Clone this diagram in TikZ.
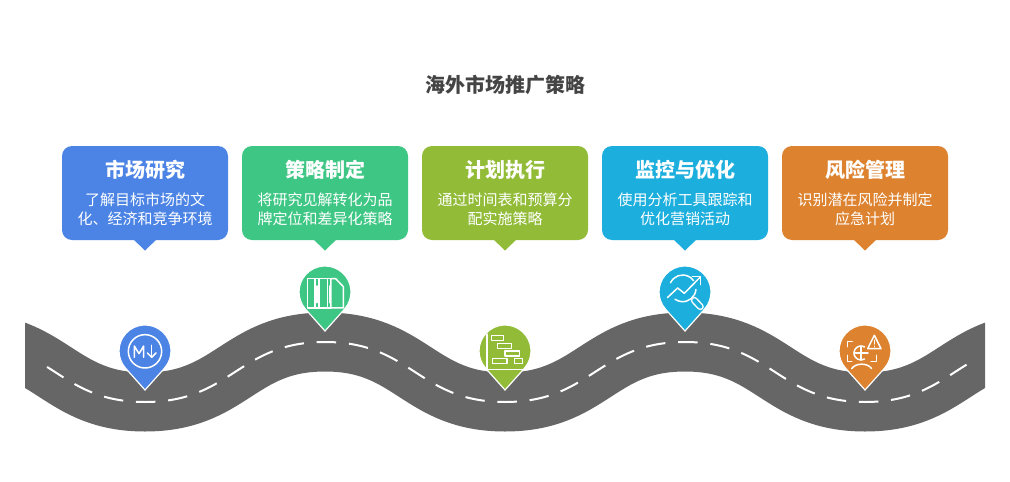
\documentclass[tikz,border=0pt]{standalone}
\usepackage{fontspec}
\setmainfont{Noto Sans CJK SC}
\definecolor{cblue}{HTML}{4C84E5}
\definecolor{cgreen}{HTML}{3EC684}
\definecolor{colive}{HTML}{92BC38}
\definecolor{ccyan}{HTML}{1CAEDD}
\definecolor{corange}{HTML}{DD8330}
\definecolor{croad}{HTML}{666666}
\definecolor{ctitle}{HTML}{444444}
\tikzset{
  card/.style={minimum width=166pt,minimum height=94pt,rounded corners=10pt,inner sep=0pt,outer sep=0pt},
  cardhead/.style={text=white,font=\fontsize{20}{24}\selectfont\bfseries,inner sep=0pt},
  cardbody/.style={text=white,font=\fontsize{15}{19}\selectfont,align=center,inner sep=0pt},
  pinfill/.style={draw=white,line width=1.2pt,line join=miter},
  iconline/.style={draw=white,line width=1.5pt,line cap=round,line join=round},
}
% card: name, centre x, colour, heading, body
\newcommand{\CardAt}[5]{%
  \fill[#3] (#2-13,238) -- (#2,250.5) -- (#2+13,238) -- cycle;
  \node[card,fill=#3] (#1) at (#2,193) {};
  \node[cardhead] (#1h) at (#2,169.5) {#4};
  \node[cardbody] (#1b) at (#2,209.5) {#5};
}
% pin: centre x, centre y, colour
\newcommand{\PinAt}[3]{%
  \path[pinfill,fill=#3] (#1,#2+39) -- (#1+19.4,#2+17.3) arc[start angle=41.8,end angle=-221.8,radius=26] -- cycle;
}
\begin{document}
\begin{tikzpicture}[x=1pt,y=-1pt]
\useasboundingbox (0,0) rectangle (1010,482);
\fill[white] (0,0) rectangle (1010,482);

\node[text=ctitle,font=\fontsize{20}{24}\selectfont\bfseries,inner sep=0pt] (title) at (505,85) {海外市场推广策略};

\CardAt{c1}{145}{cblue}{市场研究}{了解目标市场的文\\化、经济和竞争环境}
\CardAt{c2}{325}{cgreen}{策略制定}{将研究见解转化为品\\牌定位和差异化策略}
\CardAt{c3}{505}{colive}{计划执行}{通过时间表和预算分\\配实施策略}
\CardAt{c4}{685}{ccyan}{监控与优化}{使用分析工具跟踪和\\优化营销活动}
\CardAt{c5}{865}{corange}{风险管理}{识别潜在风险并制定\\应急计划}

% road
\begin{scope}
\clip (25,0) rectangle (985,482);
\draw[croad,line width=59pt,line cap=butt]
  (-35,342) .. controls (52,342) and (58,402) .. (145,402)
  .. controls (232,402) and (238,342) .. (325,342)
  .. controls (412,342) and (418,402) .. (505,402)
  .. controls (592,402) and (598,342) .. (685,342)
  .. controls (772,342) and (778,402) .. (865,402)
  .. controls (952,402) and (958,342) .. (1045,342);
\end{scope}
\begin{scope}
\clip (40,0) rectangle (970,482);
\draw[white,line width=2pt,dash pattern=on 19.5pt off 12.8pt,dash phase=9.75pt]
  (-35,342) .. controls (52,342) and (58,402) .. (145,402)
  .. controls (232,402) and (238,342) .. (325,342)
  .. controls (412,342) and (418,402) .. (505,402)
  .. controls (592,402) and (598,342) .. (685,342)
  .. controls (772,342) and (778,402) .. (865,402)
  .. controls (952,402) and (958,342) .. (1045,342);
\end{scope}

% pins
\PinAt{145}{351}{cblue}
\PinAt{325}{292}{cgreen}
\PinAt{505}{351}{colive}
\PinAt{685}{292}{ccyan}
\PinAt{865}{351}{corange}

% icon 1
\begin{scope}[shift={(115,322)},x=0.3333pt,y=-0.3333pt,iconline]
\draw (90,88) circle[radius=50];
\draw (58,106) -- (58,72) -- (72,95) -- (86,72) -- (86,106);
\draw (110,70) -- (110,106);
\draw (97,93) -- (110,106) -- (123,93);
\end{scope}

% icon 2
\begin{scope}[shift={(295,262)},x=0.3333pt,y=-0.3333pt,iconline]
\draw (38,50) rectangle (60,138);
\draw (72,50) rectangle (98,138);
\draw (108,50) -- (122,50) -- (145,74) -- (145,138) -- (108,138) -- cycle;
\draw (60,50) -- (72,50) (60,138) -- (72,138) (98,50) -- (108,50) (98,138) -- (108,138);
\draw (66,72) -- (66,122) (103,72) -- (103,122);
\end{scope}

% icon 3
\begin{scope}[shift={(475,322)},x=0.3333pt,y=-0.3333pt,iconline]
\draw (36,36) -- (36,142) -- (148,142);
\draw (50,40) rectangle (86,55);
\draw (68,64) rectangle (110,79);
\draw (90,87) rectangle (134,102);
\draw (52,110) rectangle (96,125);
\draw (118,110) rectangle (142,125);
\end{scope}

% icon 4
\begin{scope}[shift={(655,262)},x=0.3333pt,y=-0.3333pt,iconline]
\draw (83,79) ++(205:40) arc[start angle=205,end angle=325,radius=40];
\draw (83,79) ++(5:40) arc[start angle=5,end angle=125,radius=40];
\draw (37,107) -- (68,78) -- (88,94) -- (135,46);
\draw (112,44) -- (137,44) -- (137,68);
\draw (111,107) -- (115,112);
\draw[line width=7pt] (118,115) -- (136,134);
\draw[ccyan,line width=4pt] (118,115) -- (136,134);
\end{scope}

% icon 5
\begin{scope}[shift={(835,322)},x=0.3333pt,y=-0.3333pt,iconline]
\draw (52,58) -- (38,58) -- (38,74);
\draw (38,100) -- (38,118) -- (50,118);
\draw (125,100) -- (125,118) -- (108,118);
\draw (78,93) ++(300:21) arc[start angle=300,end angle=60,radius=21];
\draw (78,72) -- (78,114);
\draw (57,93) -- (99,93);
\draw (118,40) -- (98,80) -- (138,80) -- cycle;
\draw (118,55) -- (118,66);
\draw (118,73) -- (118,74);
\draw (50,140) .. controls (62,122) and (98,122) .. (110,140);
\end{scope}
\end{tikzpicture}
\end{document}
